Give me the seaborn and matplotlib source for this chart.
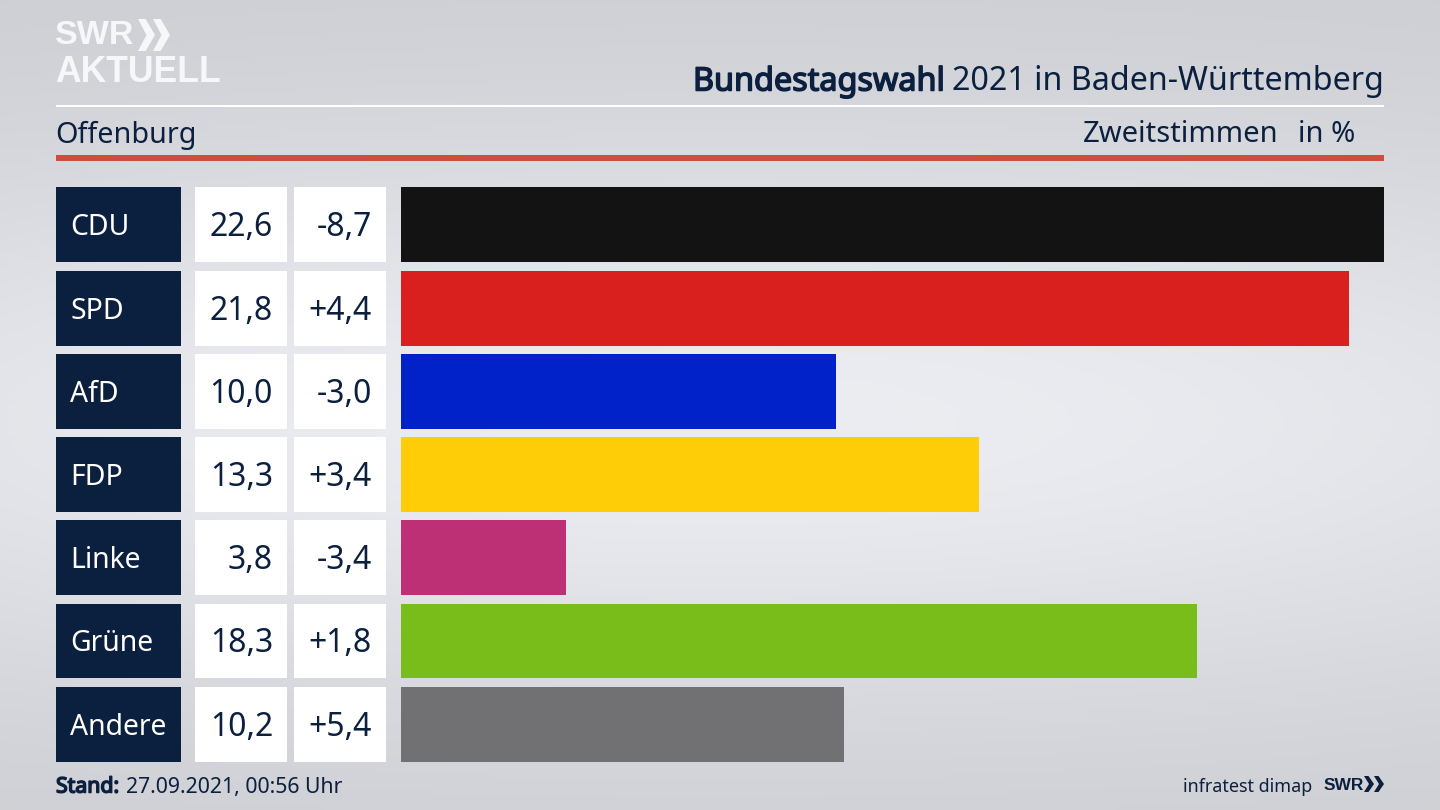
import matplotlib
matplotlib.use('Agg')
import matplotlib.pyplot as plt
import matplotlib.patheffects as pe
import numpy as np
import pandas as pd
import seaborn as sns

# values
parties = ['CDU', 'SPD', 'AfD', 'FDP', 'Linke', 'Grüne', 'Andere']
shares = [22.6, 21.8, 10.0, 13.3, 3.8, 18.3, 10.2]
changes = [-8.7, 4.4, -3.0, 3.4, -3.4, 1.8, 5.4]
bar_colors = ['#131313', '#da201f', '#0022c8', '#ffcc08', '#bd3075', '#79bd1a', '#717173']

NAVY = '#0b1f3f'
LOGO = '#f6f7f8'
W, H = 1440, 810
FONT = 'Noto Sans'
LOGO_FONT = 'Liberation Sans'

sns.set_theme(style='white')
plt.rcParams['font.family'] = [FONT, 'DejaVu Sans']

df = pd.DataFrame({'party': parties, 'share': shares, 'change': changes, 'full': 1})
df['share_text'] = df['share'].map(lambda v: f'{v:.1f}'.replace('.', ','))
df['change_text'] = df['change'].map(lambda v: f'{v:+.1f}'.replace('.', ','))

fig = plt.figure(figsize=(W / 100, H / 100), dpi=100)

# background with soft light band through the middle
bg = fig.add_axes([0, 0, 1, 1])
yy, xx = np.mgrid[0:1:200j, 0:1:200j]
glow = np.exp(-((yy - 0.52) / 0.36) ** 2) * (1 - 0.25 * (2 * xx - 1) ** 2)
grey = 0.80 + 0.125 * glow
rgb = np.dstack([grey, grey + 0.004, grey + 0.022])
bg.imshow(np.clip(rgb, 0, 1), extent=[0, W, H, 0], aspect='auto', zorder=0)
bg.set_xlim(0, W)
bg.set_ylim(H, 0)
bg.axis('off')

# header rules
bg.fill_between([56, 1384], 104.5, 107, color='white', lw=0)
bg.fill_between([56, 1384], 155, 160.5, color='#cb4f3c', lw=0)

# the installed Noto Sans has no usable bold, so thicken with a stroke
heavy = [pe.withStroke(linewidth=1.1, foreground=NAVY)]

# header and footer text
bg.text(693, 82, 'Bundestagswahl', fontsize=23.3, color=NAVY, va='center', ha='left', path_effects=heavy)
bg.text(1384, 82, '2021 in Baden-Württemberg', fontsize=23.2, color=NAVY, va='center', ha='right')
bg.text(55.5, 135, 'Offenburg', fontsize=20.7, color=NAVY, va='center', ha='left')
bg.text(1278, 135, 'Zweitstimmen', fontsize=21, color=NAVY, va='center', ha='right')
bg.text(1355, 135, 'in %', fontsize=21, color=NAVY, va='center', ha='right')
bg.text(56, 787, 'Stand:', fontsize=15.3, color=NAVY, va='center', ha='left', path_effects=heavy)
bg.text(126, 787, '27.09.2021, 00:56 Uhr', fontsize=15.3, color=NAVY, va='center', ha='left')
bg.text(1312, 787, 'infratest dimap', fontsize=12.9, color=NAVY, va='center', ha='right')
bg.text(1324, 785, 'SWR', fontsize=12.5, fontweight='bold', family=LOGO_FONT, color=NAVY, va='center', ha='left')

# logo, top left
bg.text(55, 36, 'SWR', fontsize=24.5, fontweight='bold', family=LOGO_FONT, color=LOGO, va='center', ha='left')
bg.text(55, 72.5, 'AKTUELL', fontsize=25.6, fontweight='bold', family=LOGO_FONT, color=LOGO, va='center', ha='left')


def chevron(x, y, w, h, color):
    bg.fill([x, x + w * 0.45, x + w, x + w * 0.45, x, x + w * 0.5], [y - h, y - h, y, y + h, y + h, y],
            color=color, lw=0)


chevron(138, 35, 17, 16, LOGO)
chevron(153, 35, 17, 16, LOGO)
chevron(1364, 784, 10, 8, NAVY)
chevron(1374, 784, 10, 8, NAVY)


def column(x0, x1):
    # all columns share the same row band, 83.2 px per party
    top, bottom = 183.3, 765.8
    ax = fig.add_axes([x0 / W, 1 - bottom / H, (x1 - x0) / W, (bottom - top) / H])
    ax.patch.set_alpha(0)
    return ax


def finish(ax, xmax):
    ax.set_xlim(0, xmax)
    ax.set_ylim(len(parties) - 0.5, -0.5)
    ax.set_xlabel('')
    ax.set_ylabel('')
    ax.set_xticks([])
    ax.set_yticks([])
    sns.despine(ax=ax, left=True, bottom=True)


ax_party = column(56, 181)
sns.barplot(data=df, y='party', x='full', color=NAVY, saturation=1, width=0.9, linewidth=0, ax=ax_party)
finish(ax_party, 1)

ax_share = column(195, 287)
sns.barplot(data=df, y='party', x='full', color='white', saturation=1, width=0.9, linewidth=0, ax=ax_share)
finish(ax_share, 1)

ax_change = column(294, 386)
sns.barplot(data=df, y='party', x='full', color='white', saturation=1, width=0.9, linewidth=0, ax=ax_change)
finish(ax_change, 1)

ax_bars = column(400.5, 1384)
sns.barplot(data=df, y='party', x='share', hue='party', palette=bar_colors, legend=False,
            saturation=1, width=0.9, linewidth=0, ax=ax_bars)
finish(ax_bars, max(shares))

# text sits slightly below the row centre, like in the original
nudge = 3 / 83.2
for i, row in df.iterrows():
    ax_party.text(14 / 125, i + nudge, row['party'], fontsize=20.4, color='white', va='center', ha='left')
    ax_share.text(78 / 92, i + nudge, row['share_text'], fontsize=23, color=NAVY, va='center', ha='right')
    ax_change.text(78 / 92, i + nudge, row['change_text'], fontsize=23, color=NAVY, va='center', ha='right')

fig.savefig('out.png', dpi=100)
